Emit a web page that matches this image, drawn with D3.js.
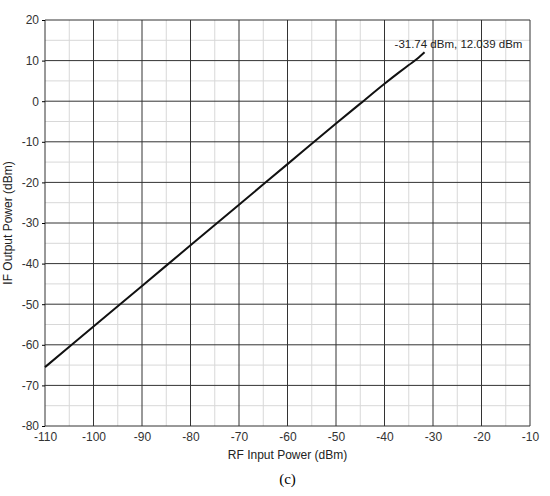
<!DOCTYPE html><html><head><meta charset="utf-8"><script src="https://cdn.jsdelivr.net/npm/d3@7"></script>
<style>body{margin:0;background:#fff}text{font-family:Arial,"Liberation Sans",sans-serif}</style></head><body><svg id="c" width="550" height="496"></svg>
<script>
const xIn=[-110,-100,-90,-80,-70,-60,-50,-45,-40,-37,-35,-33,-31.74];
const yOut=[-65.5,-55.5,-45.5,-35.5,-25.5,-15.5,-5.5,-0.6,4.3,7.1,8.9,10.7,12.039];
const xTicks=d3.range(-110,-9,10), yTicks=d3.range(-80,21,10);
const svg=d3.select("#c"), m={l:45,t:20,r:530,b:426};
const x=d3.scaleLinear().domain([-110,-10]).range([m.l,m.r]);
const y=d3.scaleLinear().domain([-80,20]).range([m.b,m.t]);
const fmt=d=>String(d);
const g=svg.append("g");
d3.range(-105,-10,10).forEach(v=>g.append("line").attr("x1",x(v)).attr("x2",x(v)).attr("y1",m.t).attr("y2",m.b).attr("stroke","#d8d8d8"));
d3.range(-75,20,10).forEach(v=>g.append("line").attr("y1",y(v)).attr("y2",y(v)).attr("x1",m.l).attr("x2",m.r).attr("stroke","#d8d8d8"));
xTicks.forEach(v=>g.append("line").attr("x1",x(v)).attr("x2",x(v)).attr("y1",m.t).attr("y2",m.b).attr("stroke","#333"));
yTicks.forEach(v=>g.append("line").attr("y1",y(v)).attr("y2",y(v)).attr("x1",m.l).attr("x2",m.r).attr("stroke","#333"));
svg.append("g").attr("transform",`translate(0,${m.b})`).call(d3.axisBottom(x).tickValues(xTicks).tickFormat(fmt).tickSize(0).tickPadding(6))
 .call(a=>a.select(".domain").remove()).selectAll("text").attr("font-size",12).attr("fill","#333");
svg.append("g").attr("transform",`translate(${m.l},0)`).call(d3.axisLeft(y).tickValues(yTicks).tickFormat(fmt).tickSize(3).tickPadding(3))
 .call(a=>a.select(".domain").remove()).selectAll("text").attr("font-size",12).attr("fill","#333");
svg.append("path").datum(xIn.map((v,i)=>[v,yOut[i]])).attr("fill","none").attr("stroke","#111").attr("stroke-width",2)
 .attr("d",d3.line().x(d=>x(d[0])).y(d=>y(d[1])).curve(d3.curveMonotoneX));
svg.append("text").attr("x",x(-31.74)-30).attr("y",y(12.039)-4).attr("font-size",11.5).attr("fill","#222").text("-31.74 dBm, 12.039 dBm");
svg.append("text").attr("x",(m.l+m.r)/2).attr("y",459).attr("text-anchor","middle").attr("font-size",12).attr("fill","#222").text("RF Input Power (dBm)");
svg.append("text").attr("transform",`translate(12,${(m.t+m.b)/2}) rotate(-90)`).attr("text-anchor","middle").attr("font-size",12).attr("fill","#222").text("IF Output Power (dBm)");
svg.append("text").attr("x",(m.l+m.r)/2).attr("y",484).attr("text-anchor","middle").attr("font-size",15).style("font-family","'Liberation Serif',serif").text("(c)");
</script></body></html>
